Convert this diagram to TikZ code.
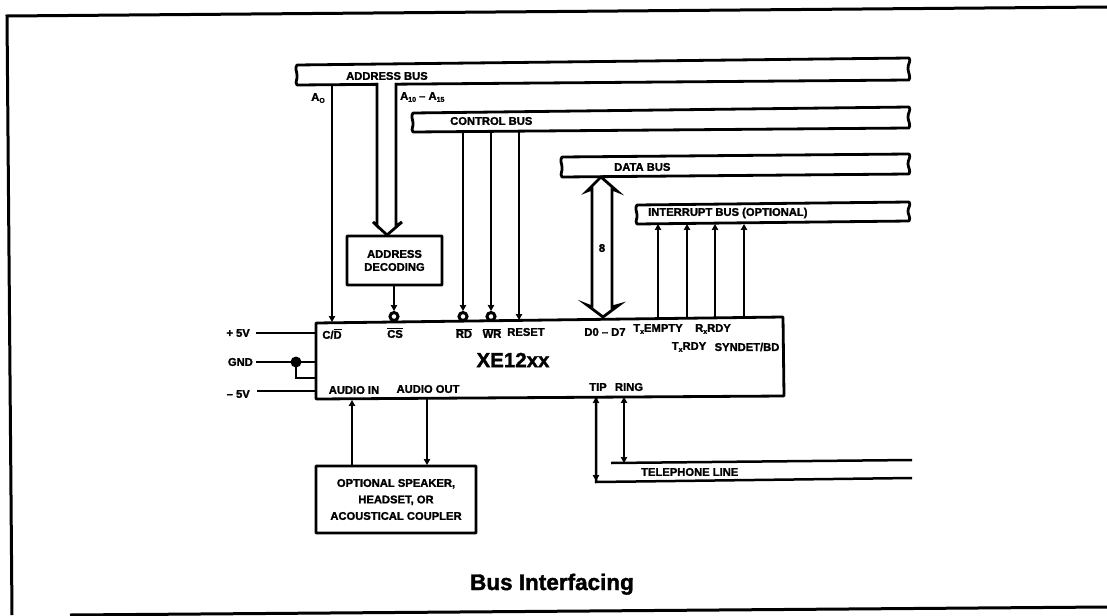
\documentclass[tikz,border=0pt]{standalone}
\usepackage{fontspec}
\setmainfont{Liberation Sans}[BoldFont={Liberation Sans Bold},BoldFeatures={FakeBold=1.6}]
\usetikzlibrary{arrows.meta}
\tikzset{
  x=1pt,y=-1pt,
  wire/.style={line width=2.5pt,black},
  busline/.style={line width=2.8pt,black,line join=round},
  boxed/.style={draw=black,line width=2.8pt,fill=white,inner sep=0pt,rounded corners=0.5pt},
  tinylabel/.style={font=\fontsize{11.2}{13}\selectfont\bfseries,inner sep=0pt,black},
  bubble/.style={circle,draw=black,line width=3pt,fill=white,minimum size=8pt,inner sep=0pt},
  tipto/.style={-{Stealth[length=6pt,width=6.5pt,inset=0.5pt]}},
  tipboth/.style={{Stealth[length=6pt,width=6.5pt,inset=0.5pt]}-{Stealth[length=6pt,width=6.5pt,inset=0.5pt]}},
  fatarrow/.style={line width=2.8pt,black,line join=miter},
}
\newcommand{\busshape}[7]{%
  \draw[busline,fill=white] (#1,#2) -- (#4,#5)
    .. controls (#4+2.5,#5+3) and (#4-1.5,#5+6) .. (#4-1,{(#5+#6)/2})
    .. controls (#4-1,{(#5+#6)/2+3}) and (#4+2,#6-3) .. (#4,#6)
    -- (#1,#3)
    .. controls (#1-2.5,#3-3) and (#1+1,#3-6) .. (#1,{(#2+#3)/2})
    .. controls (#1,{(#2+#3)/2-3}) and (#1-2.5,#2+3) .. (#1,#2) -- cycle;
  \coordinate (#7) at (#1,#3);
}
\newcommand{\ovl}[1]{$\overline{\hbox{#1}}$}
\newcommand{\sbs}[1]{\raisebox{-2pt}{\fontsize{7}{7}\selectfont #1}}
\begin{document}
\begin{tikzpicture}
\useasboundingbox (0,0) rectangle (1107,615);
% outer frame
\coordinate (fa) at (7,16);
\coordinate (fb) at (1107,7);
\coordinate (fc) at (12,615);
\coordinate (fd) at (70,615);
\coordinate (fe) at (1107,607);
\draw[line width=3pt] (fb) -- (fa) -- (fc);
\draw[line width=3pt] (fd) -- (fe);

% buses
\busshape{297}{65}{85}{909}{58}{80}{addr}
\busshape{413}{113}{132}{909}{107}{128}{ctrl}
\busshape{562}{157}{177}{909}{154}{174}{data}
\busshape{637}{205}{224}{909}{202}{221}{intr}
\node[tinylabel,anchor=west] (laddr) at (346,76) {ADDRESS BUS};
\node[tinylabel,anchor=west] (lctrl) at (450,121) {CONTROL BUS};
\node[tinylabel,anchor=west] (ldata) at (614,167) {DATA BUS};
\node[tinylabel,anchor=west] (lintr) at (648,213) {INTERRUPT BUS (OPTIONAL)};

% chip
\draw[busline,rounded corners=0.5pt] (316,323) -- (783,317) -- (784,396) -- (316,399) -- cycle;
\node[inner sep=0pt] (chip) at (513,360) {\fontsize{20.5}{22}\selectfont\bfseries XE12xx};

% address decoding
\node[boxed,minimum width=95pt,minimum height=49pt,align=center,font=\fontsize{11.2}{13}\selectfont\bfseries] (dec) at (394.5,260.5) {ADDRESS\\DECODING};

% speaker box
\node[boxed,minimum width=160pt,minimum height=67pt,align=center,font=\fontsize{11.2}{16.5}\selectfont\bfseries] (spk) at (396,499.5) {OPTIONAL SPEAKER,\\HEADSET, OR\\ACOUSTICAL COUPLER};

% named pin points on the buses and chip
\coordinate (a0t) at (332,86);  \coordinate (a0b) at (332,322);
\coordinate (rdt) at (463,131); \node[bubble] (rdb) at (463,316.5) {};
\coordinate (wrt) at (491,131); \node[bubble] (wrb) at (491,316.5) {};
\coordinate (rst) at (519,131); \coordinate (rsb) at (519,320);
\node[bubble] (csb) at (394,316.5) {};

\draw[wire,tipto] (a0t) -- (a0b);
\draw[wire,tipto] (rdt) -- (rdb);
\draw[wire,tipto] (wrt) -- (wrb);
\draw[wire,tipto] (rst) -- (rsb);
\draw[wire,tipto] (dec.south -| csb) -- (csb);

% address fat arrow (opens into the bus)
\coordinate (aa) at (377,83); \coordinate (ab) at (396,83);
\coordinate (ac) at (387,235);
\fill[white] (378,80) rectangle (395,88);
\draw[fatarrow] (aa) -- (377,226) -- (373,222) -- (ac) -- (402,222) -- (396,226) -- (ab);

% data fat arrow
\coordinate (dt) at (601,177); \coordinate (db) at (603,317);
\draw[fatarrow] (dt) -- (587,191) -- (592,189) -- (592,307) -- (587,305) -- (db) -- (619,305) -- (612,307) -- (612,189) -- (617,191) -- cycle;
\node[tinylabel] (eight) at (602,248) {8};

% interrupt lines
\foreach \n/\x in {p1/658,p2/687,p3/715,p4/744}{
  \coordinate (\n a) at (\x,318);
  \coordinate (\n b) at (\x,224);
  \draw[wire,tipto] (\n a) -- (\n b);
}

% power
\coordinate (v5) at (256,333); \coordinate (v5e) at (316,333);
\coordinate (g) at (256,362); \coordinate (ge) at (316,362);
\coordinate (m5) at (257,391); \coordinate (m5e) at (316,391);
\coordinate (gd) at (296,362); \coordinate (gl) at (296,378); \coordinate (gr) at (316,378);
\draw[wire] (v5) -- (v5e);
\draw[wire] (g) -- (ge);
\draw[wire] (m5) -- (m5e);
\draw[wire] (gd) -- (gl) -- (gr);
\fill (gd) circle (5.5pt);
\node[tinylabel,anchor=east] (lv5) at (250,333) {+ 5V};
\node[tinylabel,anchor=east] (lg) at (253,362) {GND};
\node[tinylabel,anchor=east] (lm5) at (250,394) {– 5V};

% audio
\coordinate (aiu) at (352,400); \coordinate (aid) at (352,465);
\coordinate (aou) at (427,398); \coordinate (aod) at (427,465);
\draw[wire,tipto] (aid) -- (aiu);
\draw[wire,tipto] (aou) -- (aod);

% telephone
\coordinate (tu) at (596,397); \coordinate (tc) at (596,482); \coordinate (te) at (912,478);
\coordinate (ru) at (624,397); \coordinate (rd) at (624,463);
\coordinate (ls) at (611,463); \coordinate (le) at (912,460);
\draw[wire,line join=miter] (te) -- (tc) -- (tu);
\draw[wire,tipboth] (596,481) -- (tu);
\draw[wire,tipboth] (rd) -- (ru);
\draw[wire] (ls) -- (le);
\node[tinylabel,anchor=west] (ltel) at (641,472) {TELEPHONE LINE};

% pin labels
\node[tinylabel] (pa0) at (318,98) {A\sbs{O}};
\node[tinylabel,anchor=west] (pa1) at (400,97) {A\sbs{10} – A\sbs{15}};
\node[tinylabel] (pcd) at (332,334) {C/\ovl{D}};
\node[tinylabel] (pcs) at (395,333) {\ovl{CS}};
\node[tinylabel] (prd) at (464,333) {\ovl{RD}};
\node[tinylabel] (pwr) at (492,333) {\ovl{WR}};
\node[tinylabel] (prs) at (526,332) {RESET};
\node[tinylabel] (pd) at (605,332) {D0 – D7};
\node[tinylabel] (pte) at (658,329) {T\sbs{x}EMPTY};
\node[tinylabel] (prr) at (713,329) {R\sbs{x}RDY};
\node[tinylabel] (ptr) at (689,347) {T\sbs{x}RDY};
\node[tinylabel] (psy) at (747,347) {SYNDET/BD};
\node[tinylabel] (pai) at (354,390) {AUDIO IN};
\node[tinylabel] (pao) at (428,389) {AUDIO OUT};
\node[tinylabel] (ptp) at (598,387) {TIP};
\node[tinylabel] (prg) at (629,387) {RING};

% title
\node[anchor=base,inner sep=0pt] (title) at (552,590) {\fontsize{22.5}{24}\selectfont\bfseries Bus Interfacing};
\end{tikzpicture}
\end{document}
